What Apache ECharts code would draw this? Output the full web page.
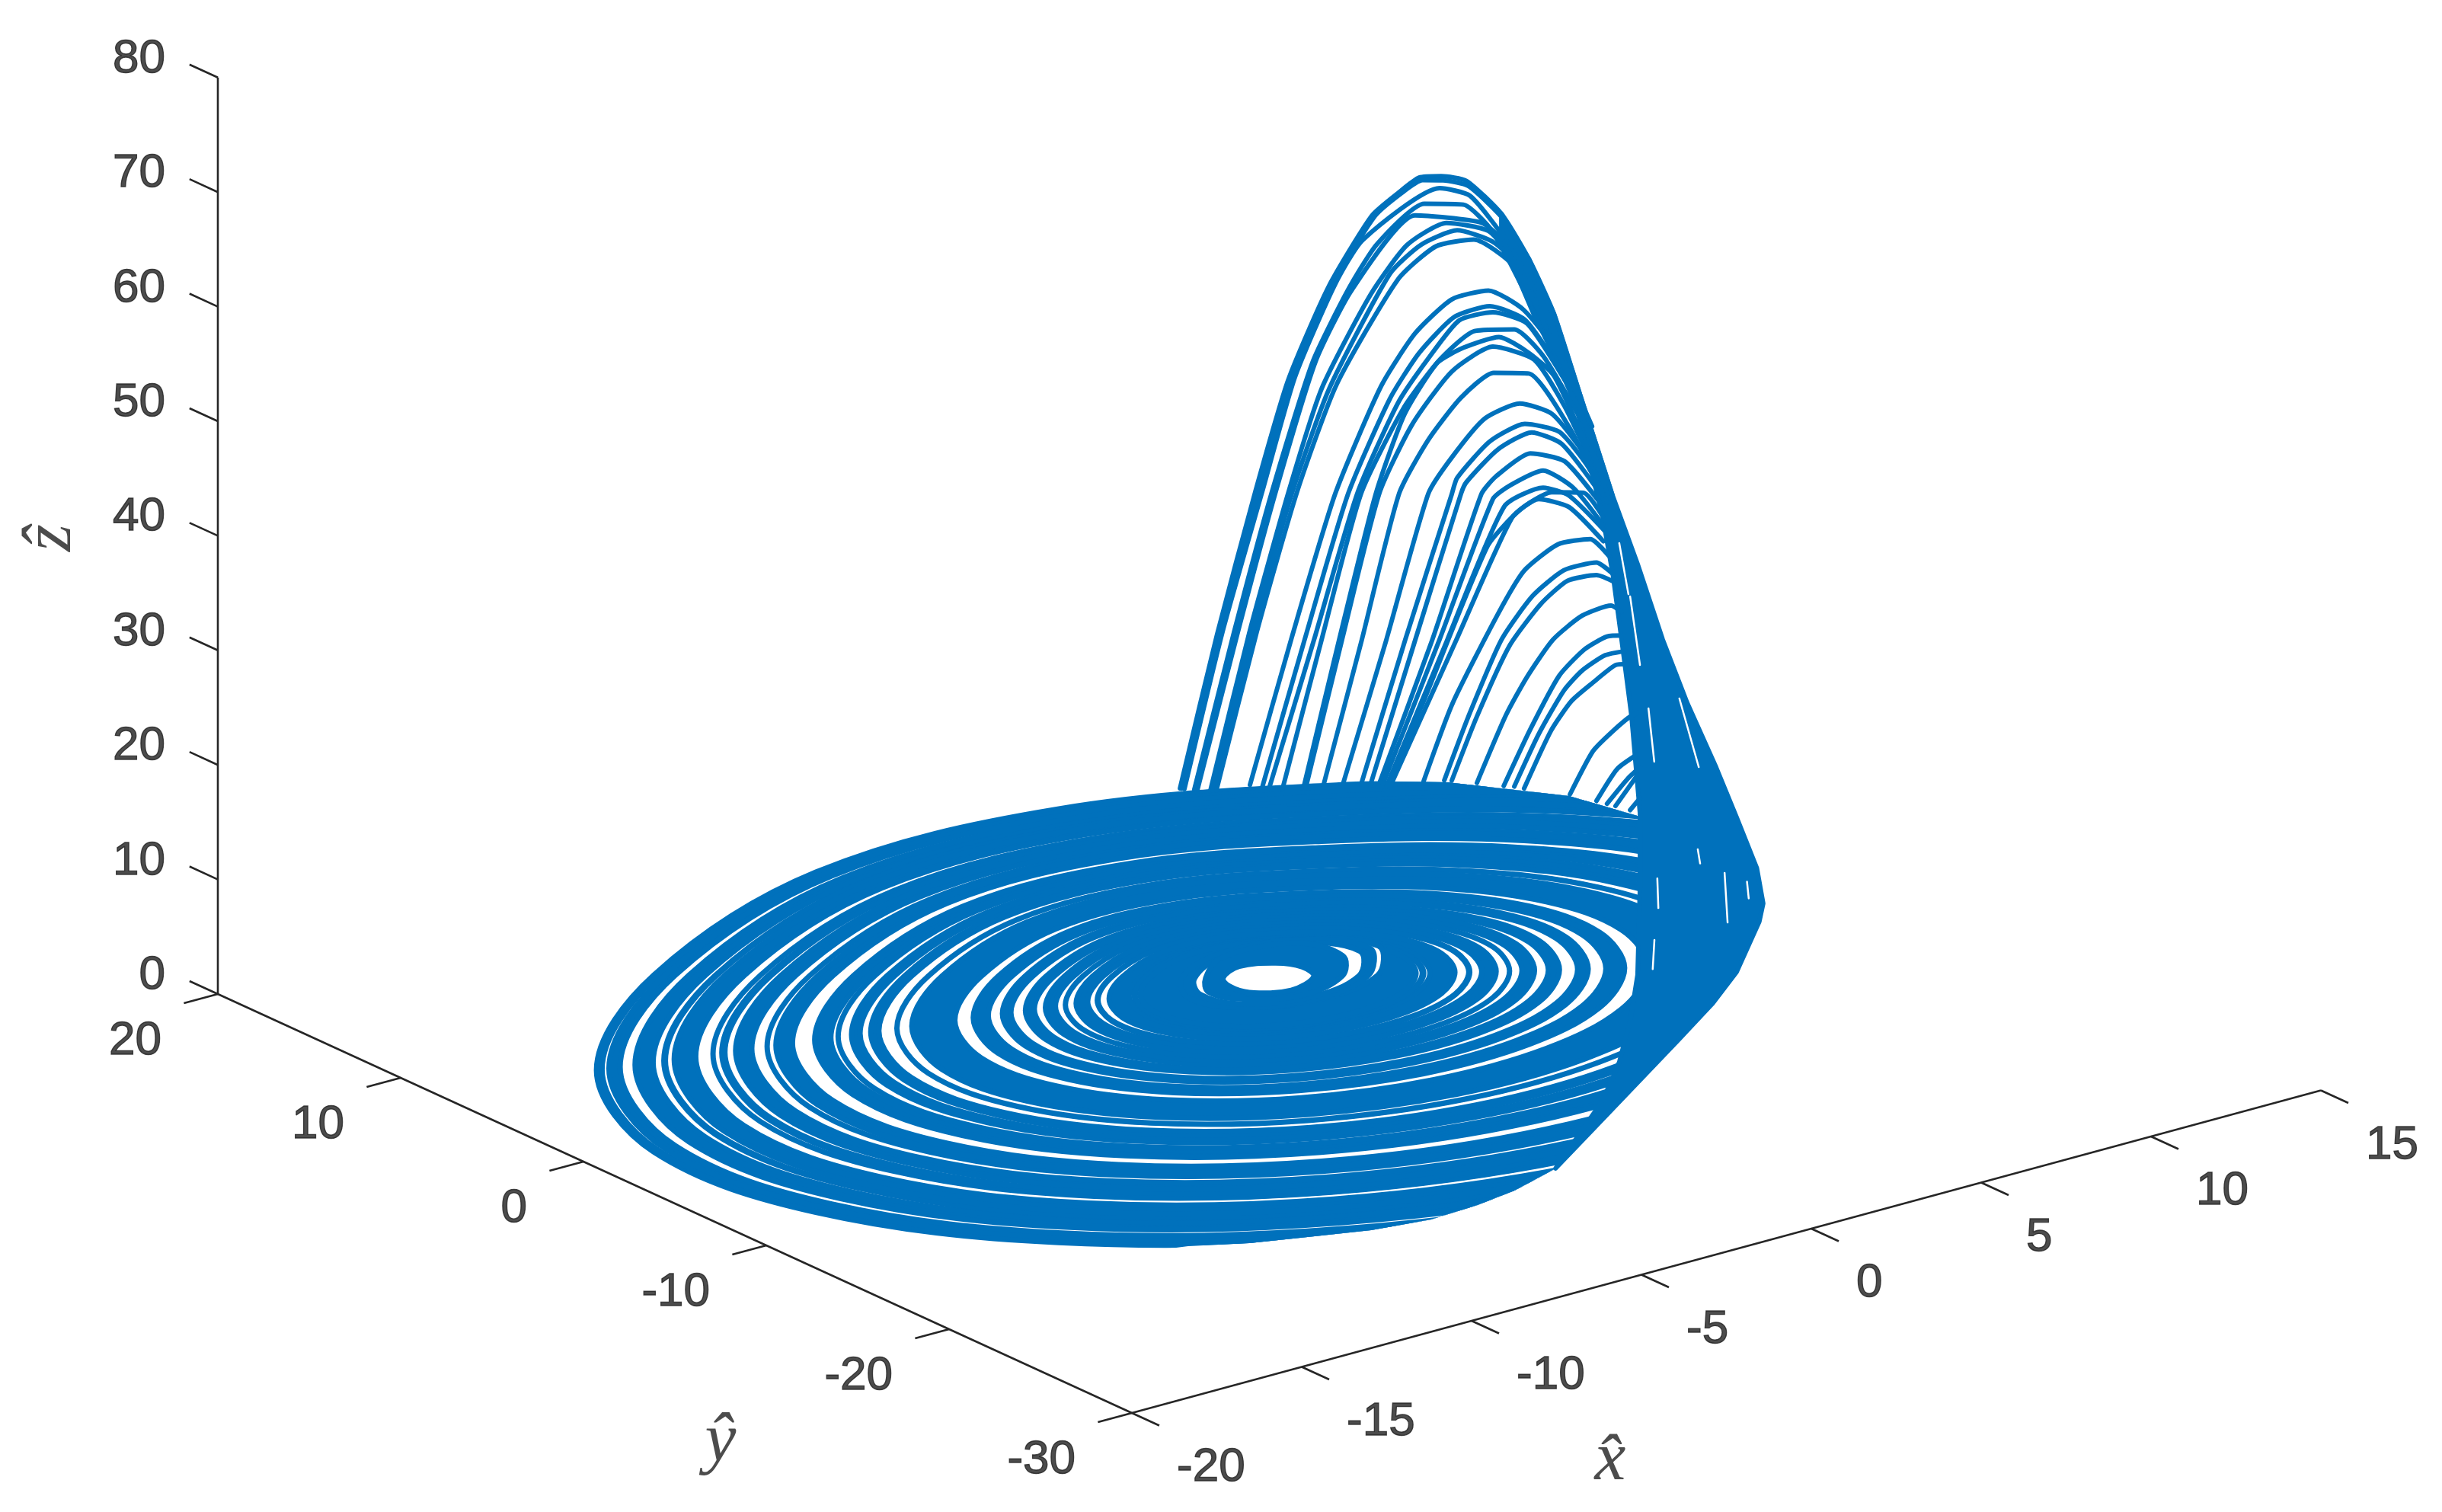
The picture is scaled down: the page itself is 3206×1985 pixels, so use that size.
<!DOCTYPE html>
<html><head><meta charset="utf-8">
<style>html,body{margin:0;padding:0;background:#fff}#c{width:3206px;height:1985px}</style>
<script src="https://cdn.jsdelivr.net/npm/echarts@6/dist/echarts.min.js"></script>
</head><body><div id="c"></div>
<script>
// Axis ticks
const xTicks=[-20,-15,-10,-5,0,5,10,15];
const yTicks=[20,10,0,-10,-20,-30];
const zTicks=[0,10,20,30,40,50,60,70,80];
// Shape of a loop in the (x,y) plane, read from the outermost loop
const loopX=[16.25,11.55,5.11,-2.1,-8.98,-14.48,-17.75,-18.31,-16.07,-11.17,-4.03,3.02,9.3,14.66,17.93,18.49];
const loopY=[-15.33,-20.95,-24.03,-24.14,-21.22,-15.74,-8.53,-0.69,6.59,12.56,16.97,16.77,12.76,7.0,-0.21,-8.05];
const OUTER_LOOP=17.36;
// Where the loops leave the plane: limit of the flat part, (x,y) points
const flatLimitX=[-3.13,13.3,9.46,11.28,12.97,13.45,10.6,7.02,5.01,4.21,3.18,2.19,1.18,-2.3,-2.98,-3.95,-5.22,-6.66,-8.2,-9.65,-10.97,-12.23,-14.21,-17.28,-29.25];
const flatLimitY=[38.26,20.18,13.04,10.87,7.36,4.38,-0.93,-7.45,-10.78,-12.0,-13.59,-14.96,-16.3,-20.28,-20.63,-21.1,-21.45,-21.58,-21.16,-20.38,-19.65,-18.64,-17.74,-23.45,-10.28];
// Gaps seen between the loops: [outer, inner], each read as the size of the loop on the left side of the disc
const gapReadings=[[17.2,17.05],[16.73,16.37],[15.87,15.62],[15.55,15.35],[14.76,14.31],[14.31,14.11],[14.0,13.75],[13.3,12.89],[12.9,12.7],[12.24,11.69],[11.24,11.04],[11.05,10.73],[10.48,10.23],[9.99,9.52],[9.52,9.16],[8.01,7.56],[7.14,6.8],[6.55,6.2],[5.94,5.68],[5.39,5.09],[5.13,4.88],[4.55,4.33],[4.28,4.02],[3.47,3.37],[3.31,3.21]];
// Innermost loops, radius every 45 degrees
const coreGap2Outer=[3.4,3.0,2.6,2.2,2.2,2.4,2.8,3.1];
const coreGap2Inner=[3.15,3.0,2.6,2.2,2.2,2.4,2.7,2.85];
const coreGapOuter=[2.85,2.75,2.3,1.85,1.85,2.15,2.45,2.6];
const coreGapInner=[2.35,2.75,2.3,1.55,1.6,1.75,2.15,2.15];
const coreHole=[1.15,1.15,1.3,1.08,0.98,1.22,1.55,1.38];
// Arcs rising above the disc: [x, z] pairs
const arcs=[
[[-2.44,18.45],[-1.35,31.0],[-0.22,42.6],[0.74,51.5],[1.93,58.7],[3.21,63.9],[4.01,65.3],[4.6,66.1],[5.25,65.7],[5.99,64.7],[7.02,61.0],[7.83,56.4],[8.57,51.0],[9.33,43.4],[10.29,33.8]],
[[-2.4,18.4],[-1.3,31.0],[-0.15,42.4],[0.82,51.4],[2.0,58.6],[3.3,63.8],[4.1,65.2],[4.7,65.8],[5.3,65.3],[6.05,64.2],[7.1,60.4],[7.9,55.8],[8.6,50.5]],
[[-2.31,18.3],[-1.19,31.1],[-0.02,42.4],[0.94,51.6],[2.11,58.7],[2.94,62.0],[5.2,64.7],[6.1,63.3],[7.17,58.5],[8.0,53.6]],
[[-2.02,18.0],[-0.85,30.8],[0.27,42.2],[1.46,52.5],[2.51,58.0],[3.36,61.3],[4.75,63.7],[5.9,62.7],[6.75,59.7],[7.89,52.4]],
[[-1.93,17.9],[-0.74,30.7],[0.38,42.1],[1.55,52.5],[2.62,57.9],[4.48,62.9],[6.43,60.7],[7.06,58.6],[8.12,51.5]],
[[-1.55,17.5],[-0.4,30.4],[0.76,41.8],[1.73,50.0],[3.16,57.0],[4.24,60.5],[5.4,61.5],[6.64,59.8],[7.4,56.5],[8.34,50.0]],
[[-1.48,17.5],[-0.29,30.4],[0.87,41.7],[1.95,49.8],[3.74,58.4],[4.66,60.2],[5.72,60.6],[6.75,58.8],[7.49,56.2],[8.45,49.6]],
[[-1.37,17.4],[-0.18,30.3],[1.01,41.6],[2.17,50.0],[3.97,57.7],[5.09,59.7],[6.21,59.4],[7.4,56.1],[8.34,50.0]],
[[-0.38,17.1],[0.83,28.8],[2.13,40.5],[3.48,48.8],[4.48,52.6],[5.56,54.7],[6.64,54.6],[7.67,52.1],[8.68,47.5],[9.69,40.3]],
[[-0.02,16.6],[1.23,28.5],[2.51,40.2],[3.74,47.5],[4.6,50.8],[5.63,53.1],[6.68,53.2],[7.71,51.2],[8.79,45.7],[9.8,38.2]],
[[0.2,16.5],[1.5,28.2],[2.78,40.0],[3.97,46.9],[4.87,50.1],[5.78,52.7],[6.77,52.6],[7.78,50.8],[8.9,44.9]],
[[0.58,16.0],[1.73,28.1],[2.89,39.9],[4.13,46.3],[5.2,49.7],[6.23,51.4],[7.4,50.6],[8.25,47.6],[9.35,41.2]],
[[1.19,15.5],[2.24,27.6],[3.32,39.5],[4.17,45.8],[5.13,49.5],[5.9,50.2],[6.95,50.3],[7.83,48.2],[8.57,45.6],[9.57,38.4]],
[[1.26,15.5],[2.33,27.6],[3.43,39.5],[4.39,44.7],[5.56,48.4],[6.77,49.6],[7.98,47.5],[8.88,42.7],[9.8,36.2]],
[[1.79,15.4],[2.91,27.1],[4.01,39.0],[4.87,43.0],[5.83,45.9],[6.79,47.3],[7.83,46.4],[9.01,40.8],[9.91,34.8]],
[[2.35,14.9],[3.63,26.5],[4.87,38.3],[5.56,40.9],[6.52,43.5],[7.56,44.0],[8.52,42.3],[9.53,37.7],[10.13,33.3]],
[[2.89,14.5],[4.19,26.1],[5.56,37.7],[5.72,39.0],[6.68,41.4],[7.71,42.1],[8.72,40.6],[9.53,37.1],[10.02,34.0]],
[[3.16,14.2],[4.48,25.8],[5.83,37.5],[5.99,38.4],[6.91,40.5],[7.91,41.2],[8.79,39.5],[9.8,34.9]],
[[3.39,13.9],[4.98,25.4],[6.43,37.0],[6.86,38.2],[7.87,39.4],[8.88,37.9],[9.91,33.5]],
[[3.5,13.8],[5.2,25.3],[6.77,36.3],[7.29,37.1],[8.25,37.6],[9.13,35.4],[10.02,31.4]],
[[3.63,13.7],[5.43,25.1],[7.11,35.4],[8.25,36.1],[9.01,34.8],[10.13,30.6]],
[[3.74,13.6],[5.7,24.9],[7.33,34.2],[8.12,35.2],[9.01,33.8],[10.02,30.0]],
[[3.72,14.2],[4.64,19.7],[6.61,32.3],[7.56,34.7],[8.5,35.5],[9.44,34.7],[10.0,32.2]],
[[4.73,13.3],[5.58,19.4],[6.91,26.1],[7.69,29.3],[8.68,30.8],[9.64,30.5],[10.18,28.6]],
[[5.34,12.9],[6.05,17.9],[7.02,23.8],[7.94,26.9],[8.86,28.4],[9.82,28.3],[10.31,26.9]],
[[5.56,12.7],[6.3,17.7],[7.26,23.1],[8.18,26.0],[8.97,27.4],[9.82,27.2],[10.38,26.1]],
[[6.3,11.9],[7.15,17.1],[7.76,19.9],[8.54,22.6],[9.39,24.0],[10.25,24.2],[10.56,23.4]],
[[7.09,11.0],[7.87,15.3],[8.72,19.3],[9.46,21.0],[10.13,21.6],[10.61,21.3]],
[[7.4,10.7],[8.12,14.7],[8.86,17.9],[9.39,19.2],[10.07,20.0],[10.67,19.9]],
[[7.69,10.3],[8.48,14.7],[9.08,16.8],[9.71,17.9],[10.38,18.9],[10.74,18.7]],
[[9.04,8.7],[9.71,11.9],[10.25,13.1],[10.85,14.1],[11.41,14.3]],
[[9.82,7.5],[10.43,9.8],[11.03,10.6]],
[[10.13,7.0],[10.74,8.7],[11.1,9.4]],
[[10.38,6.6],[11.03,8.8]],
[[10.81,5.9],[11.1,6.7]]
];
// Outline of the dense bundle where the loops lift off: [x, y, z]
const liftBundle=[[7.02,0,61.0],[7.83,0,56.4],[8.57,0,51.0],[9.33,0,43.4],[10.29,0,33.8],[11.03,0,27.2],[11.77,0,20.0],[12.49,0,13.9],[13.34,0,7.6],[13.95,0,2.7],[13.53,-1.88,0],[12.23,-4.64,0],[11.42,-5.93,0],[8.98,-9.23,0],[7.23,-11.14,0],[5.21,-13.1,0],[0.92,-17.2,0],[-2.3,-20.28,0],[1.18,-16.3,0],[2.19,-14.96,0],[3.18,-13.59,0],[4.21,-12.0,0],[5.01,-10.78,0],[7.02,-7.45,0],[10.6,-0.93,0],[11.1,0,5.4],[10.85,0,14.1],[10.56,0,20.95],[10.31,0,26.7],[10.0,0,32.2],[9.75,0,35.4],[9.22,0,42.5],[8.57,0,47.4],[7.98,0,51.4],[7.4,0,55.9],[7.02,0,59.7]];
// Thin openings inside that bundle: [x, y, z] end points
const liftOpenings=[
[[10.49,0,29.46],[10.76,0,24.78]],
[[10.81,0,24.55],[11.1,0,18.33]],
[[11.35,0,14.34],[11.52,0,9.55]],
[[12.26,0,14.47],[12.83,0,8.03]],
[[8.92,-5,5.1],[8.95,-5,2.5]],
[[7.22,-8,3.3],[7.17,-8,0.8]],
[[10.11,-5,6.7],[10.18,-5,5.4]],
[[10.9,-5,4.0],[10.45,-6,0.77]],
[[11.56,-5,2.7],[11.61,-5,1.2]]
];

const BLUE='#0071BC',INK='#1f1f1f',FONT='"Liberation Sans",Arial,sans-serif';
const ARC_W=6, RING_W=7, GAP_PAD=0.015;
// Orthographic view of the 3-D box
function project(x,y,z){return [1658+44.6*x-24*y,1283-12.1*x-11*y-15.04*z];}
function polarPoints(radii){
  return radii.map((r,i)=>{const a=i*2*Math.PI/radii.length;return project(r*Math.cos(a),r*Math.sin(a),0);});
}
const loopPoints=s=>loopX.map((x,i)=>project(x*s/OUTER_LOOP,loopY[i]*s/OUTER_LOOP,0));
const rings=[{pts:loopPoints(OUTER_LOOP),fill:BLUE,smooth:.35}];
gapReadings.forEach(g=>{
  rings.push({pts:loopPoints(g[0]+GAP_PAD),fill:'#fff',smooth:.35});
  rings.push({pts:loopPoints(g[1]-GAP_PAD),fill:BLUE,smooth:.35});
});
rings.push({pts:polarPoints(coreGap2Outer),fill:'#fff',smooth:.37});
rings.push({pts:polarPoints(coreGap2Inner),fill:BLUE,smooth:.37});
rings.push({pts:polarPoints(coreGapOuter),fill:'#fff',smooth:.37});
rings.push({pts:polarPoints(coreGapInner),fill:BLUE,smooth:.37});
rings.push({pts:polarPoints(coreHole),fill:'#fff',smooth:.37});
const limitPts=flatLimitX.map((x,i)=>project(x,flatLimitY[i],0));
const bundlePts=liftBundle.map(p=>project(p[0],p[1],p[2]));

const plain={type:'line',silent:true,showSymbol:false,symbol:'none',animation:false};
const series=[];
function inkLine(a,b){series.push({...plain,z:1,lineStyle:{color:'#262626',width:2.6},data:[a,b]});}
inkLine(project(-20,-30,0),project(15,-30,0));
inkLine(project(-20,-30,0),project(-20,20,0));
inkLine(project(-20,20,0),project(-20,20,80));
xTicks.forEach(v=>inkLine(project(v,-30,0),project(v,-31.5,0)));
yTicks.forEach(v=>inkLine(project(-20,v,0),project(-21,v,0)));
zTicks.forEach(v=>inkLine(project(-20,20,v),project(-20,21.55,v)));

series.push({type:'custom',silent:true,animation:false,clip:false,z:3,
  data:[[0,0]],
  renderItem(params,api){
    return {type:'group',
      clipPath:{type:'polygon',shape:{points:limitPts.map(p=>api.coord(p))}},
      children:rings.map(s=>({type:'polygon',shape:{points:s.pts.map(p=>api.coord(p)),smooth:s.smooth},
        style:{fill:s.fill,stroke:BLUE,lineWidth:RING_W}}))};
  }});
series.push({type:'custom',silent:true,animation:false,clip:false,z:3.5,
  data:[[0,0]],
  renderItem(params,api){
    return {type:'polygon',shape:{points:bundlePts.map(p=>api.coord(p))},
      style:{fill:BLUE,stroke:BLUE,lineWidth:ARC_W,lineJoin:'round'}};
  }});
arcs.forEach(a=>series.push({...plain,z:4,smooth:0.2,lineStyle:{color:BLUE,width:ARC_W,join:'round',cap:'round'},
  data:a.map(p=>project(p[0],0,p[1]))}));
liftOpenings.forEach(a=>series.push({...plain,z:5,lineStyle:{color:'#fff',width:2.5,cap:'round'},
  data:a.map(p=>project(p[0],p[1],p[2]))}));

function labels(items,align,off){
  series.push({type:'scatter',silent:true,animation:false,z:6,symbolSize:1,itemStyle:{color:'transparent'},
    data:items,label:{show:true,formatter:'{b}',position:'inside',align,verticalAlign:'middle',offset:off,
      color:INK,fontFamily:FONT,fontSize:62,textBorderColor:INK,textBorderWidth:1.4}});
}
labels(xTicks.map(v=>({name:String(v),value:project(v,-30,0)})),'left',[59,72]);
labels(yTicks.map(v=>({name:String(v),value:project(-20,v,0)})),'right',[-74,62]);
labels(zTicks.map(v=>({name:String(v),value:project(-20,20,v)})),'right',[-69,-24]);

function axisTitle(text,pos,rotate){
  series.push({type:'scatter',silent:true,animation:false,z:6,symbolSize:1,itemStyle:{color:'transparent'},
    data:[{name:text,value:pos}],label:{show:true,formatter:'{b}',position:'inside',align:'center',verticalAlign:'middle',
      rotate:rotate||0,color:INK,fontFamily:'"Liberation Serif",serif',fontStyle:'italic',fontSize:92}});
}
axisTitle('x\u0302',[2114,1918]);
axisTitle('y\u0302',[946,1894]);
axisTitle('z\u0302',[68,706],90);

const chart=echarts.init(document.getElementById('c'),null,{renderer:'canvas'});
chart.setOption({animation:false,backgroundColor:'#fff',
  grid:{left:0,right:0,top:0,bottom:0},
  xAxis:{type:'value',min:0,max:3206,show:false},
  yAxis:{type:'value',min:0,max:1985,inverse:true,show:false},
  series});
</script></body></html>
